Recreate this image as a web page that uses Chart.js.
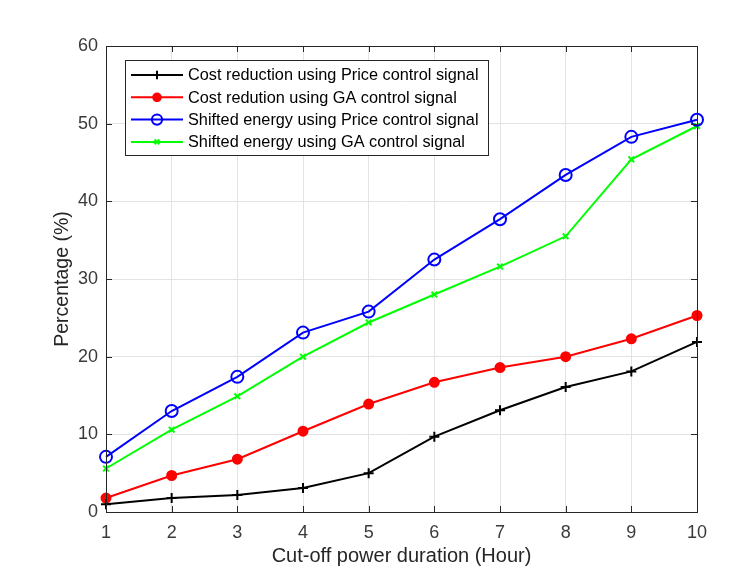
<!DOCTYPE html>
<html>
<head>
<meta charset="utf-8">
<script src="https://cdn.jsdelivr.net/npm/chart.js@4.4.1/dist/chart.umd.min.js"></script>
<style>
html,body{margin:0;padding:0;background:#fff;}
#wrap{width:754px;height:571px;position:relative;}
</style>
</head>
<body>
<div id="wrap"><canvas id="c" width="754" height="571"></canvas></div>
<script>
const categories = [1, 2, 3, 4, 5, 6, 7, 8, 9, 10];
const costPrice = [1.0, 1.8, 2.2, 3.1, 5.0, 9.7, 13.1, 16.1, 18.1, 21.9];
const costGA = [1.8, 4.7, 6.8, 10.4, 13.9, 16.7, 18.6, 20.0, 22.3, 25.3];
const shiftPrice = [7.1, 13.0, 17.4, 23.1, 25.8, 32.5, 37.7, 43.4, 48.3, 50.5];
const shiftGA = [5.6, 10.6, 14.9, 20.0, 24.4, 28.0, 31.6, 35.5, 45.4, 49.7];
const yTicks = [0, 10, 20, 30, 40, 50, 60];
const labels = [
  'Cost reduction using Price control signal',
  'Cost redution using GA control signal',
  'Shifted energy using Price control signal',
  'Shifted energy using GA control signal'
];

const FONT = "'Liberation Sans', Arial, Helvetica, sans-serif";
const AXIS_COL = '#262626';

function ds(label, data, color, style, radius, fill) {
  return {
    label, data: data.map((v, i) => ({x: categories[i], y: v})),
    borderColor: color, backgroundColor: fill ? color : 'rgba(0,0,0,0)',
    borderWidth: 2, pointStyle: style, pointRadius: radius,
    pointBorderColor: color, pointBackgroundColor: fill ? color : 'rgba(0,0,0,0)',
    pointBorderWidth: 2, tension: 0, clip: false, fill: false
  };
}

const boxPlugin = {
  id: 'matlabBox',
  afterDraw(chart) {
    const {ctx, chartArea: a, scales} = chart;
    ctx.save();
    ctx.strokeStyle = AXIS_COL;
    ctx.lineWidth = 1;
    ctx.strokeRect(Math.round(a.left) + 0.5, Math.round(a.top) + 0.5, Math.round(a.right - a.left), Math.round(a.bottom - a.top));
    const L = 6;
    ctx.beginPath();
    scales.x.ticks.forEach(t => {
      const x = Math.round(scales.x.getPixelForValue(t.value)) + 0.5;
      ctx.moveTo(x, a.bottom); ctx.lineTo(x, a.bottom - L);
      ctx.moveTo(x, a.top); ctx.lineTo(x, a.top + L);
    });
    scales.y.ticks.forEach(t => {
      const y = Math.round(scales.y.getPixelForValue(t.value)) + 0.5;
      ctx.moveTo(a.left, y); ctx.lineTo(a.left + L, y);
      ctx.moveTo(a.right, y); ctx.lineTo(a.right - L, y);
    });
    ctx.stroke();

    // legend box
    const lx = 125, ly = 60, lw = 363, lh = 95;
    ctx.fillStyle = '#fff';
    ctx.fillRect(lx, ly, lw, lh);
    ctx.strokeStyle = '#262626';
    ctx.lineWidth = 1;
    ctx.strokeRect(lx + 0.5, ly + 0.5, lw, lh);
    ctx.font = '16.3px ' + FONT;
    ctx.textBaseline = 'middle';
    chart.data.datasets.forEach((d, i) => {
      const y = ly + 15 + i * 22.3;
      ctx.strokeStyle = d.borderColor;
      ctx.lineWidth = 2;
      ctx.beginPath(); ctx.moveTo(lx + 6, y); ctx.lineTo(lx + 58, y); ctx.stroke();
      ctx.fillStyle = d.pointBackgroundColor;
      ctx.strokeStyle = d.borderColor;
      Chart.helpers.drawPoint(ctx, {pointStyle: d.pointStyle, radius: d.pointRadius * 0.85, borderWidth: 2, rotation: 0}, lx + 32, y);
      ctx.fillStyle = '#000';
      ctx.fillText(d.label, lx + 63, y + 1);
    });
    ctx.restore();
  }
};

new Chart(document.getElementById('c'), {
  type: 'line',
  data: {
    datasets: [
      ds(labels[0], costPrice, '#000000', 'cross', 5, false),
      ds(labels[1], costGA, '#ff0000', 'circle', 4.5, true),
      ds(labels[2], shiftPrice, '#0000ff', 'circle', 6, false),
      ds(labels[3], shiftGA, '#00ff00', 'crossRot', 4, false)
    ]
  },
  options: {
    responsive: false,
    animation: false,
    devicePixelRatio: 1,
    layout: {padding: {left: 0, right: 57, top: 46, bottom: 0}},
    plugins: {legend: {display: false}, tooltip: {enabled: false}},
    scales: {
      x: {
        type: 'linear', min: 1, max: 10,
        afterFit(s) { s.height = 59; },
        afterBuildTicks(s) { s.ticks = categories.map(v => ({value: v})); },
        grid: {color: '#e3e3e3', drawTicks: false, lineWidth: 1},
        border: {display: false},
        ticks: {color: '#3a3a3a', font: {family: FONT, size: 18}, padding: 10},
        title: {display: true, text: 'Cut-off power duration (Hour)', color: '#262626',
                font: {family: FONT, size: 20}, padding: {top: 0, bottom: 3}}
      },
      y: {
        type: 'linear', min: 0, max: 60,
        afterFit(s) { s.width = 106; },
        afterBuildTicks(s) { s.ticks = yTicks.map(v => ({value: v})); },
        grid: {color: '#e3e3e3', drawTicks: false, lineWidth: 1},
        border: {display: false},
        ticks: {color: '#3a3a3a', font: {family: FONT, size: 18}, padding: 8},
        title: {display: true, text: 'Percentage (%)', color: '#262626',
                font: {family: FONT, size: 19.5}, padding: {top: 51, bottom: 0}}
      }
    }
  },
  plugins: [boxPlugin]
});
</script>
</body>
</html>
